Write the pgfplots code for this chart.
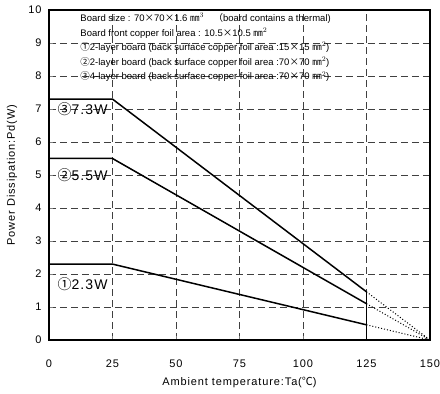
\documentclass[border=0pt]{standalone}
\usepackage{fontspec}
\setmainfont{Liberation Sans}
\newfontfamily\cjk{Noto Sans CJK JP}
\newfontfamily\spaced[LetterSpace=8]{Liberation Sans}
\usepackage{pgfplots}
\pgfplotsset{compat=1.18}
\begin{document}
\begin{tikzpicture}
\useasboundingbox (-49pt,-54pt) rectangle (391pt,340pt);
\begin{axis}[
  scale only axis, width=381pt, height=330pt,
  xmin=0, xmax=150, ymin=0, ymax=10,
  xtick={0,25,50,75,100,125,150}, ytick={0,1,...,10},
  tick align=inside, tick pos=left, major tick length=4pt,
  axis line style={line width=1.7pt},
  grid=major,
  major grid style={black!75, line width=0.8pt, dash pattern=on 7pt off 4pt},
  /pgf/number format/assume math mode=true,
  ticklabel style={font=\spaced\fontsize{11}{12}\selectfont},
  xticklabel style={yshift=-16pt},
  yticklabel style={xshift=-4pt},
  xlabel={Ambient temperature:Ta({\cjk ℃})},
  ylabel={Power Dissipation:Pd(W)},
  label style={font=\spaced\fontsize{11}{12}\selectfont},
  xlabel style={at={(axis description cs:0.5,-0.13)}, anchor=center},
  ylabel style={at={(axis description cs:-0.097,0.5)}, anchor=center},
  clip=false,
]
\addplot[black, line width=1.5pt] coordinates {(0,2.3)(25,2.3)(125,0.46)};
\addplot[black, line width=1.5pt] coordinates {(0,5.5)(25,5.5)(125,1.1)};
\addplot[black, line width=1.5pt] coordinates {(0,7.3)(25,7.3)(125,1.46)};
\addplot[black, line width=1.5pt] coordinates {(125,0)(125,1.46)};
\addplot[black, line width=1pt, dotted] coordinates {(125,0.46)(150,0)};
\addplot[black, line width=1pt, dotted] coordinates {(125,1.1)(150,0)};
\addplot[black, line width=1pt, dotted] coordinates {(125,1.46)(150,0)};
\begin{scope}[font=\fontsize{9.5}{11}\selectfont]
\node[anchor=west, inner sep=0pt] at (axis cs:12.3,9.75) {Board size : 70{\cjk ×}70{\cjk ×}1.6 {\cjk ㎜}$^{3}$\quad{\cjk （}board contains a thermal)};
\node[anchor=west, inner sep=0pt] at (axis cs:12.3,9.3) {Board front copper foil area : 10.5{\cjk ×}10.5 {\cjk ㎜}$^{2}$};
\node[anchor=west, inner sep=0pt] at (axis cs:12.3,8.86) {{\cjk ①}2-layer board (back surface copper foil area :15{\cjk ×}15 {\cjk ㎜}$^{2}$)};
\node[anchor=west, inner sep=0pt] at (axis cs:12.3,8.42) {{\cjk ②}2-layer board (back surface copper foil area :70{\cjk ×}70 {\cjk ㎜}$^{2}$)};
\node[anchor=west, inner sep=0pt] at (axis cs:12.3,7.98) {{\cjk ③}4-layer board (back surface copper foil area :70{\cjk ×}70 {\cjk ㎜}$^{2}$)};
\end{scope}
\begin{scope}[font=\spaced\fontsize{14}{16}\selectfont]
\node[anchor=west, inner sep=0pt] at (axis cs:3.3,7.0) {{\cjk ③}7.3W};
\node[anchor=west, inner sep=0pt] at (axis cs:3.3,4.98) {{\cjk ②}5.5W};
\node[anchor=west, inner sep=0pt] at (axis cs:3.3,1.68) {{\cjk ①}2.3W};
\end{scope}
\end{axis}
\end{tikzpicture}
\end{document}
